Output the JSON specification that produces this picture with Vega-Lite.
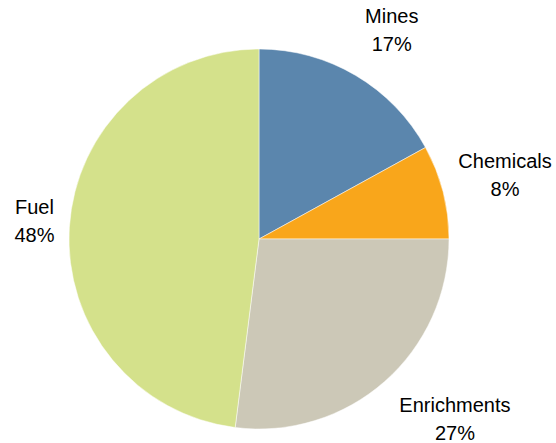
{
  "$schema": "https://vega.github.io/schema/vega-lite/v6.json",
  "width": 518,
  "height": 408,
  "autosize": "none",
  "padding": {"left": 0, "top": 35, "right": 38, "bottom": 0},
  "background": "white",
  "config": {"view": {"stroke": null}},
  "data": {
    "values": [
      {"category": "Mines", "value": 17, "idx": 1, "label": "Mines\n17%"},
      {"category": "Chemicals", "value": 8, "idx": 2, "label": "Chemicals\n8%"},
      {"category": "Enrichments", "value": 27, "idx": 3, "label": "Enrichments\n27%"},
      {"category": "Fuel", "value": 48, "idx": 4, "label": "Fuel\n48%"}
    ]
  },
  "encoding": {
    "theta": {"field": "value", "type": "quantitative", "stack": true},
    "order": {"field": "idx", "type": "quantitative"}
  },
  "layer": [
    {
      "mark": {"type": "arc", "outerRadius": 190, "stroke": "white", "strokeWidth": 0.5},
      "encoding": {
        "color": {
          "field": "category",
          "type": "nominal",
          "scale": {
            "domain": ["Mines", "Chemicals", "Enrichments", "Fuel"],
            "range": ["#5B86AD", "#F9A61B", "#CCC8B7", "#D4E18B"]
          },
          "legend": null
        }
      }
    },
    {
      "mark": {"type": "text", "radius": 247, "dx": 7, "dy": -9, "lineBreak": "\n", "lineHeight": 28, "font": "Liberation Sans", "fontSize": 20, "fill": "#000000", "align": "center", "baseline": "middle"},
      "encoding": {"text": {"condition": {"test": "datum.category === 'Mines'", "field": "label"}, "value": ""}}
    },
    {
      "mark": {"type": "text", "radius": 254, "dy": -14, "lineBreak": "\n", "lineHeight": 28, "font": "Liberation Sans", "fontSize": 20, "fill": "#000000", "align": "center", "baseline": "middle"},
      "encoding": {"text": {"condition": {"test": "datum.category === 'Chemicals'", "field": "label"}, "value": ""}}
    },
    {
      "mark": {"type": "text", "radius": 266, "dx": 20, "dy": -33, "lineBreak": "\n", "lineHeight": 28, "font": "Liberation Sans", "fontSize": 20, "fill": "#000000", "align": "center", "baseline": "middle"},
      "encoding": {"text": {"condition": {"test": "datum.category === 'Enrichments'", "field": "label"}, "value": ""}}
    },
    {
      "mark": {"type": "text", "radius": 225, "dy": -17, "lineBreak": "\n", "lineHeight": 28, "font": "Liberation Sans", "fontSize": 20, "fill": "#000000", "align": "center", "baseline": "middle"},
      "encoding": {"text": {"condition": {"test": "datum.category === 'Fuel'", "field": "label"}, "value": ""}}
    }
  ]
}
